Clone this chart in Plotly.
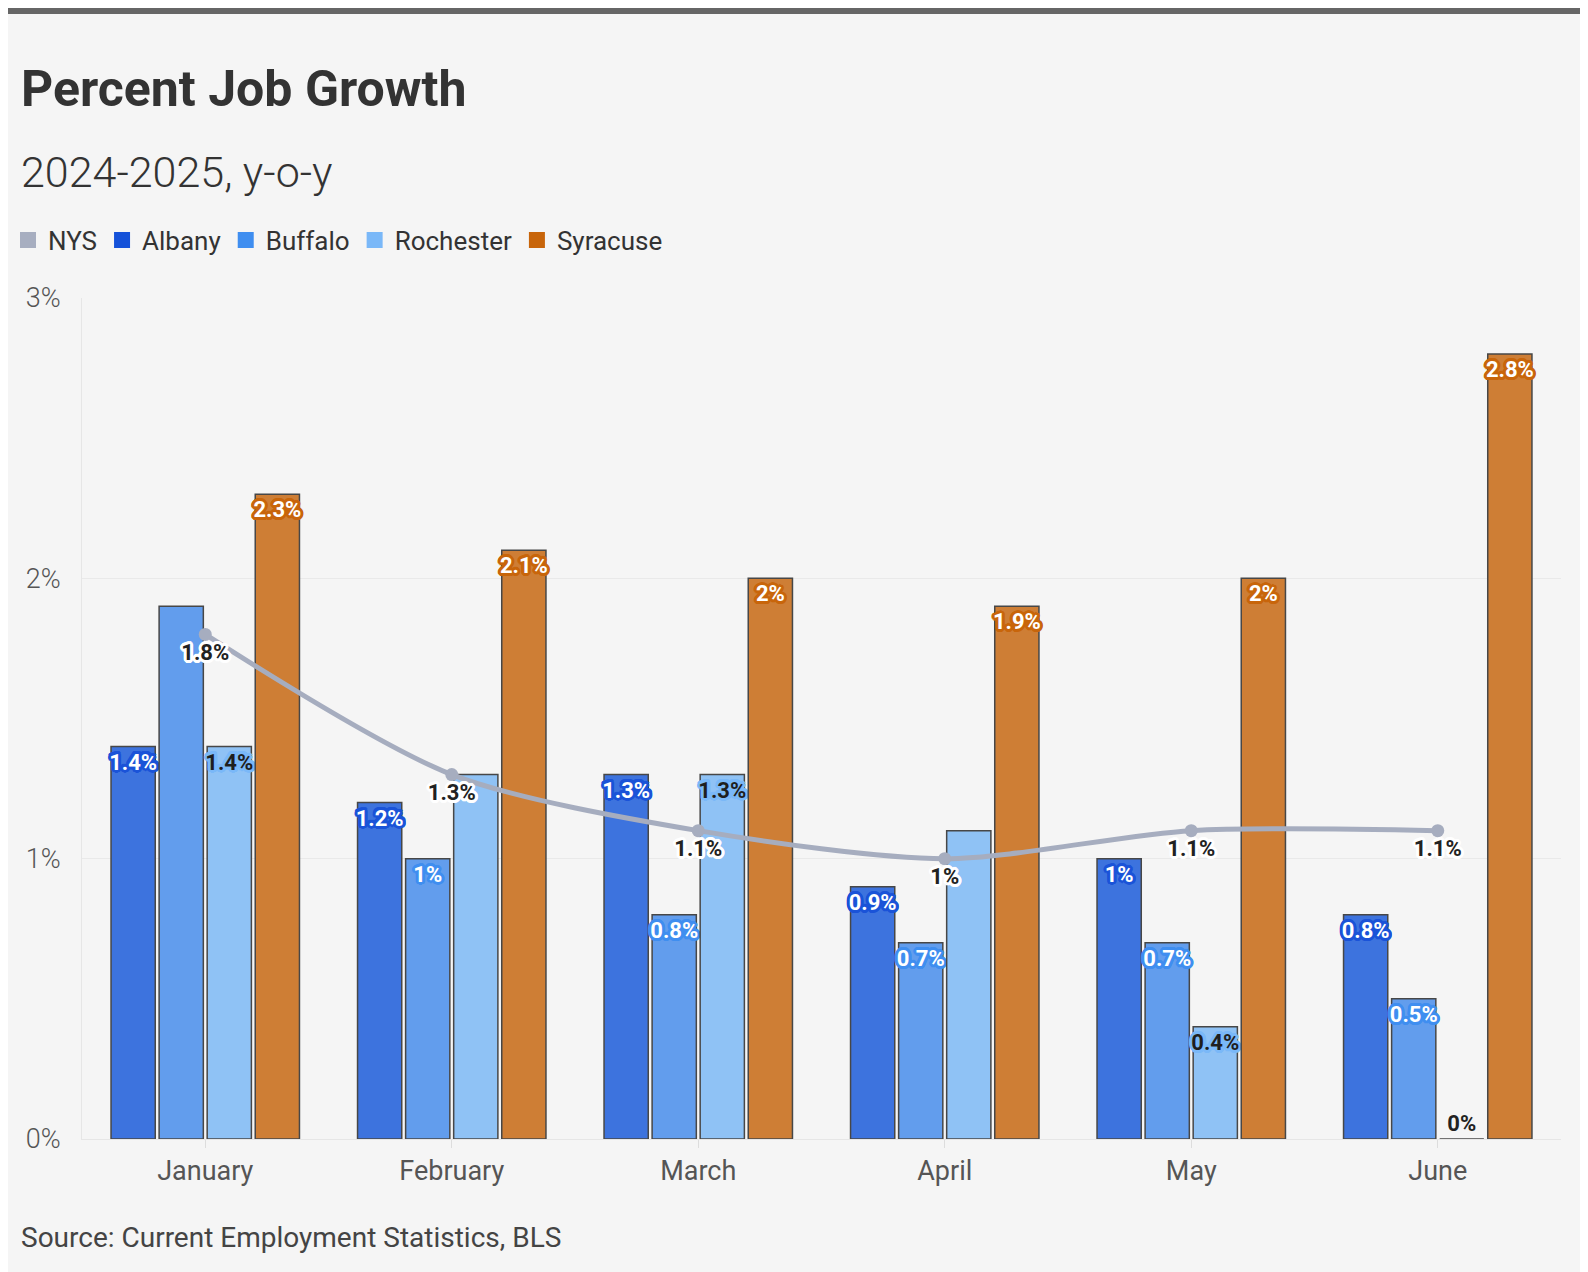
import math
import plotly.graph_objects as go

months = ["January", "February", "March", "April", "May", "June"]
nys = [1.8, 1.3, 1.1, 1.0, 1.1, 1.1]
albany = [1.4, 1.2, 1.3, 0.9, 1.0, 0.8]
buffalo = [1.9, 1.0, 0.8, 0.7, 0.7, 0.5]
rochester = [1.4, 1.3, 1.3, 1.1, 0.4, 0.0]
syracuse = [2.3, 2.1, 2.0, 1.9, 2.0, 2.8]
y_ticks = [0, 1, 2, 3]

# labels the original drops because they collide with the NYS labels
hidden = {"Buffalo": [0], "Rochester": [1, 3]}

FONT = "Roboto"

# figure size and plot area in pixels (page adds an 8px body margin)
FW, FH = 1580, 1264
L, R, T, B = 74, 1553, 290, 1131
W, H = R - L, B - T


def fx(p):
    return (p - L) / W


def fy(p):
    return (B - p) / H


def halo(color, r=3.0):
    parts = []
    for k in range(16):
        a = 2 * math.pi * k / 16
        parts.append(f"{r * math.cos(a):.1f}px {r * math.sin(a):.1f}px 0 {color}")
    return ", ".join(parts)


def pct(v):
    return f"{v:g}%"


fig = go.Figure()

# legend entries (solid swatches like the original)
legend_items = [
    ("NYS", "#a7aec0"),
    ("Albany", "#1552d9"),
    ("Buffalo", "#3f8ef0"),
    ("Rochester", "#7ab8f8"),
    ("Syracuse", "#c8650a"),
]
for name, col in legend_items:
    fig.add_trace(go.Scatter(
        x=[months[0]], y=[None], mode="markers", name=name,
        marker=dict(symbol="square", size=16, color=col),
    ))

bars = [
    ("Albany", albany, "#3d73de", "#1a53d8", "white"),
    ("Buffalo", buffalo, "#629ded", "#3f8ef0", "white"),
    ("Rochester", rochester, "#8fc2f5", "#7ab8f8", "#1e1e1e"),
    ("Syracuse", syracuse, "#ce7e35", "#c8650a", "white"),
]
for name, vals, fill, strong, txt in bars:
    labels = ["" if i in hidden.get(name, []) else pct(v) for i, v in enumerate(vals)]
    fig.add_trace(go.Bar(
        x=months, y=vals, name=name, showlegend=False,
        marker=dict(color=fill, line=dict(color="#474747", width=1.5)),
        text=labels,
        textposition=["outside" if v == 0 else "inside" for v in vals],
        insidetextanchor="end", constraintext="none", textangle=0,
        textfont=dict(family=FONT, size=22, color=txt, weight="bold",
                      shadow=halo(strong)),
        outsidetextfont=dict(family=FONT, size=22, color="#222", weight="bold",
                             shadow=halo("#f5f5f5")),
        cliponaxis=False,
    ))

fig.add_trace(go.Scatter(
    x=months, y=nys, name="NYS", showlegend=False,
    mode="lines+markers+text",
    line=dict(color="#a6adbf", width=5, shape="spline", smoothing=0.8),
    marker=dict(size=13, color="#a6adbf"),
    text=[pct(v) for v in nys], textposition="bottom center",
    textfont=dict(family=FONT, size=22, color="#222", weight="bold", shadow=halo("white")),
    cliponaxis=False,
))

fig.update_layout(
    width=FW, height=FH,
    margin=dict(l=L, r=FW - R, t=T, b=FH - B),
    paper_bgcolor="#f5f5f5", plot_bgcolor="#f5f5f5",
    font=dict(family=FONT, color="#333"),
    barmode="group", bargap=0.22, bargroupgap=0.08,
    legend=dict(
        orientation="h", xref="container", yref="container",
        x=0.0, y=1 - 232 / FH, xanchor="left", yanchor="middle",
        font=dict(family=FONT, size=26, color="#333"),
        itemsizing="trace", bgcolor="rgba(0,0,0,0)",
    ),
    showlegend=True,
)

fig.update_yaxes(
    range=[0, 3], tickvals=y_ticks, ticktext=[pct(v) for v in y_ticks],
    gridcolor="#e9e9e9", gridwidth=1, zeroline=False,
    showline=True, linecolor="#e6e6e6",
    tickfont=dict(family=FONT, size=27, color="#555", weight=300),
    ticks="", ticklabelstandoff=15,
)
fig.update_xaxes(
    type="category", categoryorder="array", categoryarray=months,
    showgrid=False, ticks="outside", ticklen=8, tickcolor="#dddddd",
    showline=True, linecolor="#e6e6e6",
    tickfont=dict(family=FONT, size=27, color="#555"),
    ticklabelstandoff=0,
)

fig.add_annotation(
    text="<b>Percent Job Growth</b>", xref="paper", yref="paper",
    x=fx(11), y=fy(81), xanchor="left", yanchor="middle", showarrow=False,
    font=dict(family=FONT, size=50, color="#333"),
)
fig.add_annotation(
    text="2024-2025, y-o-y", xref="paper", yref="paper",
    x=fx(11), y=fy(164), xanchor="left", yanchor="middle", showarrow=False,
    font=dict(family=FONT, size=43, color="#333", weight=300),
)
fig.add_annotation(
    text="Source: Current Employment Statistics, BLS", xref="paper", yref="paper",
    x=fx(11), y=fy(1229), xanchor="left", yanchor="middle", showarrow=False,
    font=dict(family=FONT, size=28, color="#444"),
)

# dark strip along the top edge
fig.add_shape(
    type="rect", xref="paper", yref="paper",
    x0=fx(0), x1=fx(FW), y0=fy(6), y1=fy(0),
    fillcolor="#666666", line=dict(width=0), layer="above",
)

fig.write_html("out.html")
